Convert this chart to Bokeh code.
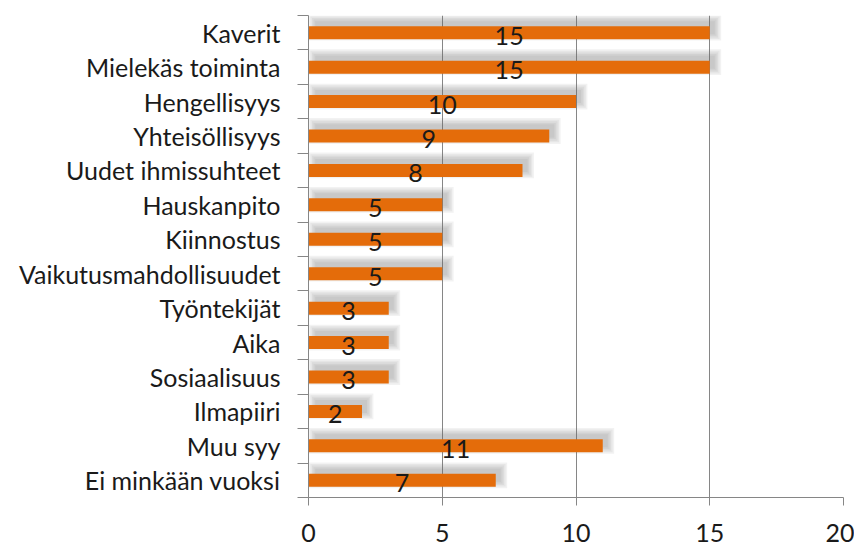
from bokeh.plotting import figure
from bokeh.models import FixedTicker, Range1d, ColumnDataSource
from bokeh.core.properties import value
from bokeh.embed import file_html
from bokeh.resources import INLINE

categories = ["Kaverit", "Mielekäs toiminta", "Hengellisyys", "Yhteisöllisyys",
              "Uudet ihmissuhteet", "Hauskanpito", "Kiinnostus",
              "Vaikutusmahdollisuudet", "Työntekijät", "Aika", "Sosiaalisuus",
              "Ilmapiiri", "Muu syy", "Ei minkään vuoksi"]
values = [15, 15, 10, 9, 8, 5, 5, 5, 3, 3, 3, 2, 11, 7]
x_ticks = [0, 5, 10, 15, 20]

FONT = "Lato"
FS = "25px"
n = len(categories)
ypos = [n - i - 0.5 for i in range(n)]

p = figure(width=854, height=552, output_backend="svg", toolbar_location=None,
           x_range=Range1d(0, 20), y_range=Range1d(0, n),
           min_border_left=308, min_border_right=11, min_border_top=15, min_border_bottom=55)
p.outline_line_color = None
p.background_fill_color = "white"

# shadows (approximate blur with layered translucent rects)
ux = 535 / 20.0
uy = 482 / 14.0
for k in range(5):
    grow = 1.6 * k
    src = ColumnDataSource(dict(
        y=[v + 5 / uy for v in ypos],
        left=[0.25 - grow / ux for _ in values],
        right=[v + (5 + grow) / ux for v in values],
    ))
    p.hbar(y="y", left="left", right="right", height=(13 + 2 * grow) / uy, source=src,
           fill_color="#6f6f6f", fill_alpha=0.09, line_color=None)

src = ColumnDataSource(dict(y=ypos, right=values, cat=categories,
                            mid=[v / 2 for v in values],
                            lbl=[str(v) for v in values],
                            ty=[y - 3 / uy for y in ypos]))
p.hbar(y="y", left=0, right="right", height=13 / uy, source=src,
       fill_color="#E46C0A", line_color=None)
p.text(x="mid", y="ty", text="lbl", source=src, text_align="center",
       text_baseline="middle", text_font=value(FONT), text_font_size=FS,
       text_color="#1a1a1a")

# x axis
p.xaxis.ticker = FixedTicker(ticks=x_ticks)
p.xaxis.axis_line_color = "#868686"
p.xaxis.major_tick_line_color = "#868686"
p.xaxis.major_tick_out = 8
p.xaxis.major_tick_in = 0
p.xaxis.minor_tick_line_color = None
p.xaxis.major_label_standoff = 18
p.xaxis.major_label_text_font = FONT
p.xaxis.major_label_text_font_size = FS
p.xaxis.major_label_text_color = "#1a1a1a"

# y axis: labels at centers, ticks at boundaries
p.yaxis.ticker = FixedTicker(ticks=ypos, minor_ticks=list(range(n + 1)))
p.yaxis.major_label_overrides = {y: c for y, c in zip(ypos, categories)}
p.yaxis.axis_line_color = "#868686"
p.yaxis.major_tick_line_color = None
p.yaxis.major_tick_out = 0
p.yaxis.major_tick_in = 0
p.yaxis.minor_tick_line_color = "#868686"
p.yaxis.minor_tick_out = 11
p.yaxis.minor_tick_in = 0
p.yaxis.major_label_standoff = 17
p.yaxis.major_label_text_font = FONT
p.yaxis.major_label_text_font_size = FS
p.yaxis.major_label_text_color = "#1a1a1a"

p.xgrid.ticker = FixedTicker(ticks=x_ticks)
p.xgrid.grid_line_color = "#868686"
p.ygrid.grid_line_color = None

open("out.html", "w").write(file_html(p, INLINE))
